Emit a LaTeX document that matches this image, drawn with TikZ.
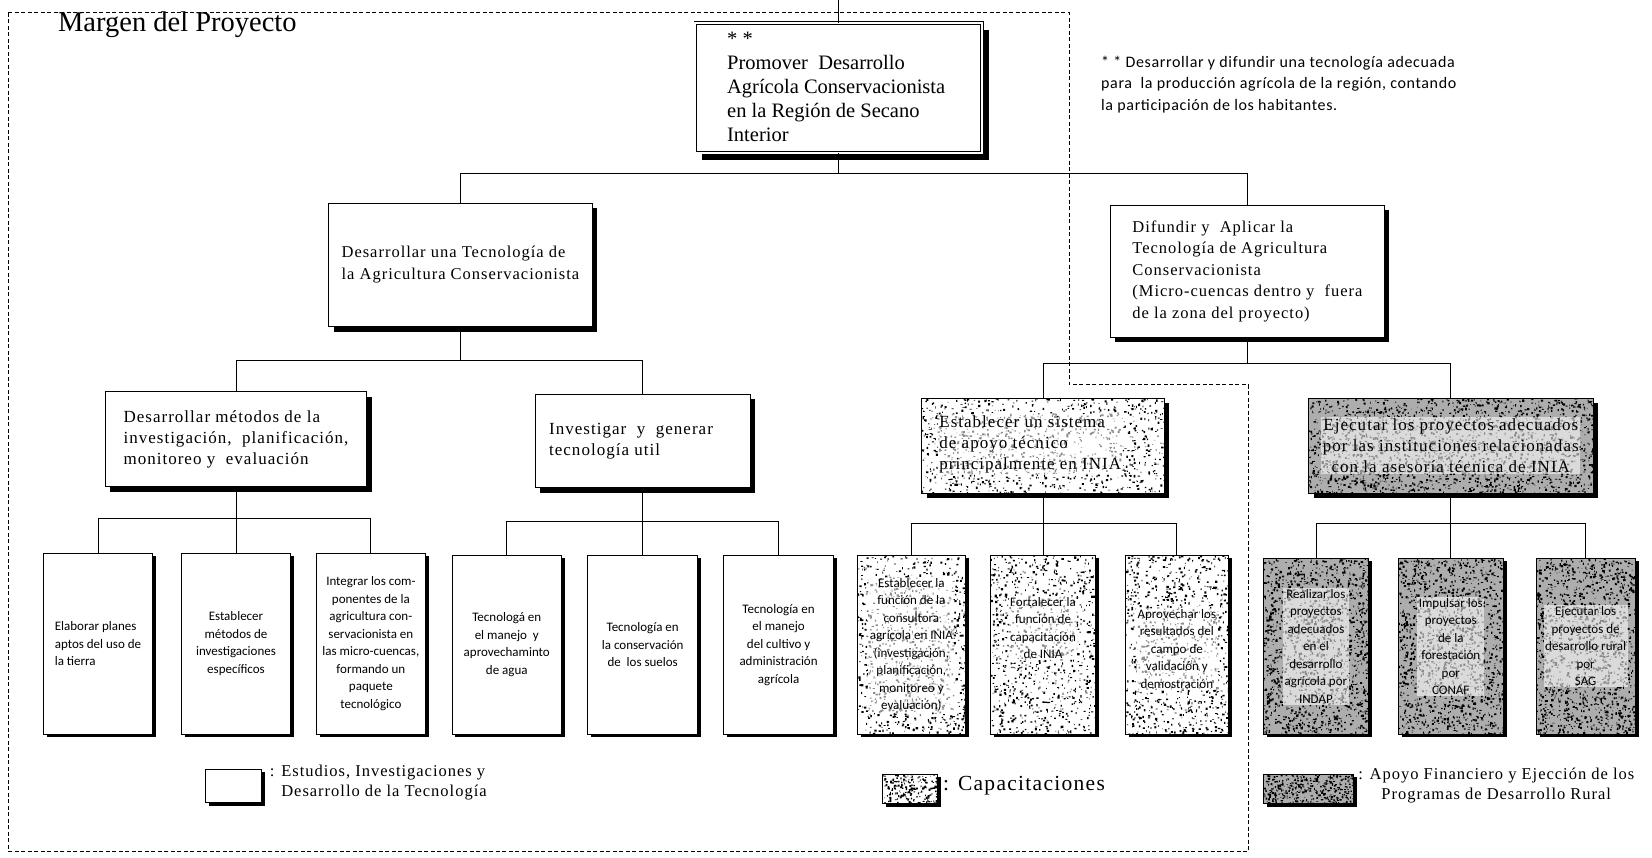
\documentclass[tikz,border=0pt]{standalone}
\usepackage{fontspec}
\setmainfont{Liberation Serif}
\newfontfamily\wideserif[LetterSpace=6]{Liberation Serif}
\newfontfamily\leaffont{Carlito}
\newfontfamily\notefont[LetterSpace=4]{Carlito}
\usetikzlibrary{shadows,fit,calc}

% random black specks inside a rectangle: x1,y1,x2,y2,count,size
\newcommand\specks[6]{%
  \begin{scope}
    \clip (#1,#2) rectangle (#3,#4);
    \fill[black] \foreach \k in {1,...,#5}{
      ({#1+rnd*(#3-#1)},{#2+rnd*(#4-#2)}) rectangle ++({#6*(0.25+rnd)},{#6*(0.25+rnd)})
    };
  \end{scope}}

\tikzset{
  card/.style={draw, line width=0.9pt, fill=white, inner sep=0pt,
    drop shadow={shadow xshift=5pt, shadow yshift=-5pt, opacity=1, fill=black}},
  leafcard/.style={draw, line width=0.9pt, fill=white, inner sep=0pt,
    drop shadow={shadow xshift=3.5pt, shadow yshift=-3pt, opacity=1, fill=black}},
  topcard/.style={draw, line width=0.6pt, double, double distance=2.2pt, fill=white, inner sep=0pt,
    drop shadow={shadow xshift=7pt, shadow yshift=-7pt, opacity=1, fill=black}},
  wire/.style={line width=0.8pt},
  margin/.style={line width=0.8pt, dash pattern=on 4pt off 2.5pt},
  % lighter patch under text set on a speckled ground
  haze/.style={fill=white, fill opacity=0.55, text opacity=1, inner sep=1.5pt},
  toptext/.style={font=\fontsize{20.5}{24}\selectfont, align=left, inner sep=0pt},
  midtext/.style={font=\wideserif\fontsize{16.5}{22}\selectfont, align=left, inner sep=0pt},
  lvtext/.style={font=\wideserif\fontsize{17}{21}\selectfont, align=left, inner sep=0pt},
  leaftext/.style={font=\leaffont\fontsize{13}{17.5}\selectfont, align=center, inner sep=0pt},
  notetext/.style={font=\notefont\fontsize{16}{21.5}\selectfont, align=left, inner sep=0pt},
  legtext/.style={font=\wideserif\fontsize{16.5}{20}\selectfont, align=left, inner sep=0pt},
}

\begin{document}
\begin{tikzpicture}[x=1.0536pt, y=-1.0536pt]
\useasboundingbox (0,0) rectangle (1568,814);
\pgfmathsetseed{4242}

% project margin
\draw[margin] (8,12) -- (1015,12) -- (1015,365) -- (1185,365) -- (1185,808) -- (8,808) -- cycle;
\node[anchor=west, font=\fontsize{28.5}{30}\selectfont, inner sep=0pt] (margin) at (55,23) {Margen del Proyecto};

% ---------- level 1
\node[topcard, fit={(660,22) (932,145)}] (top) {};
\node[toptext, anchor=north west] (top-t) at (690,30)
  {* *\\Promover\ \ Desarrollo\\Agrícola Conservacionista\\en\ la\ Región\ de\ Secano\\Interior};
\coordinate (entry) at (796,0);
\draw[wire] (entry) -- (top.north);

\node[notetext, anchor=north west] (note) at (1045,53)
  {* * Desarrollar y difundir una tecnología adecuada\\para\ \ la producción agrícola de la región, contando\\la participación de los habitantes.};

% ---------- level 2
\node[card, fit={(312,193) (562,310)}] (l2a) {};
\node[midtext] (l2a-t) at (l2a) {Desarrollar una Tecnología de\\la Agricultura Conservacionista};
\node[card, fit={(1054,195) (1314,320)}] (l2b) {};
\node[midtext, font=\wideserif\fontsize{16.5}{21.5}\selectfont] (l2b-t) at (l2b)
  {Difundir y\ \ Aplicar la\\Tecnología de Agricultura\\Conservacionista\\(Micro-cuencas dentro y\ \ fuera\\de la zona del proyecto)};

\coordinate (j0) at (796,165);
\draw[wire] (top.south) -- (j0);
\draw[wire] (l2a.north) |- (j0) -| (l2b.north);

% ---------- level 3
\node[card, fit={(100,372) (348,462)}] (l3a) {};
\node[lvtext] (l3a-t) at (l3a) {Desarrollar métodos de la\\investigación,\ \ planificación,\\monitoreo y\ \ evaluación};
\node[card, fit={(508,374) (712,463)}] (l3b) {};
\node[lvtext, anchor=west] (l3b-t) at (521,419) {Investigar\ \ y\ \ generar\\tecnología util};

\node[card, fit={(875,378) (1105,468)}] (l3c) {};
\specks{875}{378}{1105}{468}{1100}{1.8}
\node[lvtext, haze, anchor=west] (l3c-t) at (890,422) {Establecer un sistema\\de apoyo técnico\\principalmente en INIA};

\node[card, fit={(1242,378) (1512,468)}, fill=black!32] (l3d) {};
\specks{1242}{378}{1512}{468}{2000}{1.8}
\node[lvtext, haze, align=center] (l3d-t) at (l3d) {Ejecutar los proyectos adecuados\\por las instituciones relacionadas\\con la asesoría técnica de INIA};

\coordinate (j1) at (437,342);
\draw[wire] (l2a.south) -- (j1);
\draw[wire] (l3a.north) |- (j1) -| (l3b.north);
\coordinate (j2) at (1184,345);
\draw[wire] (l2b.south) -- (j2);
\draw[wire] (l3c.north) |- (j2) -| (l3d.north);

% ---------- leaves: studies and technology
\node[leafcard, fit={(41,525) (145,697)}] (a1) {};
\node[leaftext, align=left] (a1-t) at (a1) {Elaborar planes\\aptos del uso de\\la tierra};
\node[leafcard, fit={(172,525) (276,697)}] (a2) {};
\node[leaftext] (a2-t) at (a2) {Establecer\\métodos de\\investigaciones\\específicos};
\node[leafcard, fit={(300,525) (404,697)}] (a3) {};
\node[leaftext] (a3-t) at (a3) {Integrar los com-\\ponentes de la\\agricultura con-\\servacionista en\\las micro-cuencas,\\formando un\\paquete\\tecnológico};

\node[leafcard, fit={(429,527) (533,697)}] (b1) {};
\node[leaftext] (b1-t) at (b1) {Tecnologá en\\el manejo\ \ y\\aprovechaminto\\de agua};
\node[leafcard, fit={(558,527) (662,697)}] (b2) {};
\node[leaftext] (b2-t) at (b2) {Tecnología en\\la conservación\\de\ \ los suelos};
\node[leafcard, fit={(687,527) (791,697)}] (b3) {};
\node[leaftext] (b3-t) at (b3) {Tecnología en\\el manejo\\del cultivo y\\administración\\agrícola};

\coordinate (j3) at (224,492);
\draw[wire] (l3a.south) -- (j3);
\draw[wire] (a1.north) |- (j3) -| (a3.north);
\draw[wire] (j3) -- (a2.north);
\coordinate (j4) at (610,495);
\draw[wire] (l3b.south) -- (j4);
\draw[wire] (b1.north) |- (j4) -| (b3.north);
\draw[wire] (j4) -- (b2.north);

% ---------- leaves: training
\node[leafcard, fit={(814,527) (916,697)}] (c1) {};
\specks{814}{527}{916}{697}{950}{1.8}
\node[leaftext, haze] (c1-t) at (c1) {Establecer la\\función de la\\consultora\\agrícola en INIA\\(investigación,\\planificación,\\monitoreo y\\evaluación)};
\node[leafcard, fit={(940,527) (1040,697)}] (c2) {};
\specks{940}{527}{1040}{697}{950}{1.8}
\node[leaftext, haze, anchor=center] (c2-t) at ($(c2)+(0,-16)$) {Fortalecer la\\función de\\capacitación\\de INIA};
\node[leafcard, fit={(1068,527) (1166,697)}] (c3) {};
\specks{1068}{527}{1166}{697}{950}{1.8}
\node[leaftext, haze] (c3-t) at ($(c3)+(0,4)$) {Aprovechar los\\resultados del\\campo de\\validación y\\demostración};

\coordinate (j5) at (990,497);
\draw[wire] (l3c.south) -- (j5);
\draw[wire] (c1.north) |- (j5) -| (c3.north);
\draw[wire] (j5) -- (c2.north);

% ---------- leaves: financing and execution
\node[leafcard, fit={(1199,530) (1299,697)}, fill=black!32] (d1) {};
\specks{1199}{530}{1299}{697}{1500}{1.8}
\node[leaftext, haze] (d1-t) at (d1) {Realizar los\\proyectos\\adecuados\\en el\\desarrollo\\agrícola por\\INDAP};
\node[leafcard, fit={(1327,530) (1427,697)}, fill=black!32] (d2) {};
\specks{1327}{530}{1427}{697}{1500}{1.8}
\node[leaftext, haze] (d2-t) at (d2) {Impulsar los\\proyectos\\de la\\forestación\\por\\CONAF};
\node[leafcard, fit={(1458,530) (1552,697)}, fill=black!32] (d3) {};
\specks{1458}{530}{1552}{697}{1420}{1.8}
\node[leaftext, haze] (d3-t) at (d3) {Ejecutar los\\proyectos de\\desarrollo rural\\por\\SAG};

\coordinate (j6) at (1377,497);
\draw[wire] (l3d.south) -- (j6);
\draw[wire] (d1.north) |- (j6) -| (d3.north);
\draw[wire] (j6) -- (d2.north);

% ---------- legend
\node[leafcard, fit={(195,730) (248,762)}] (k1) {};
\node[legtext, anchor=north west] (k1-t) at (256,726) {: Estudios, Investigaciones y\\\phantom{: }Desarrollo de la Tecnología};

\node[leafcard, fit={(838,735) (890,763)}] (k2) {};
\specks{838}{735}{890}{763}{200}{1.7}
\node[anchor=west, font=\wideserif\fontsize{21.5}{24}\selectfont, inner sep=0pt] (k2-t) at (895,746) {: Capacitaciones};

\node[leafcard, fit={(1199,735) (1285,763)}, fill=black!32] (k3) {};
\specks{1199}{735}{1285}{763}{400}{1.7}
\node[legtext, align=center, anchor=north west] (k3-t) at (1289,729) {: Apoyo Financiero y Ejección de los\\Programas de Desarrollo Rural};
\end{tikzpicture}
\end{document}
